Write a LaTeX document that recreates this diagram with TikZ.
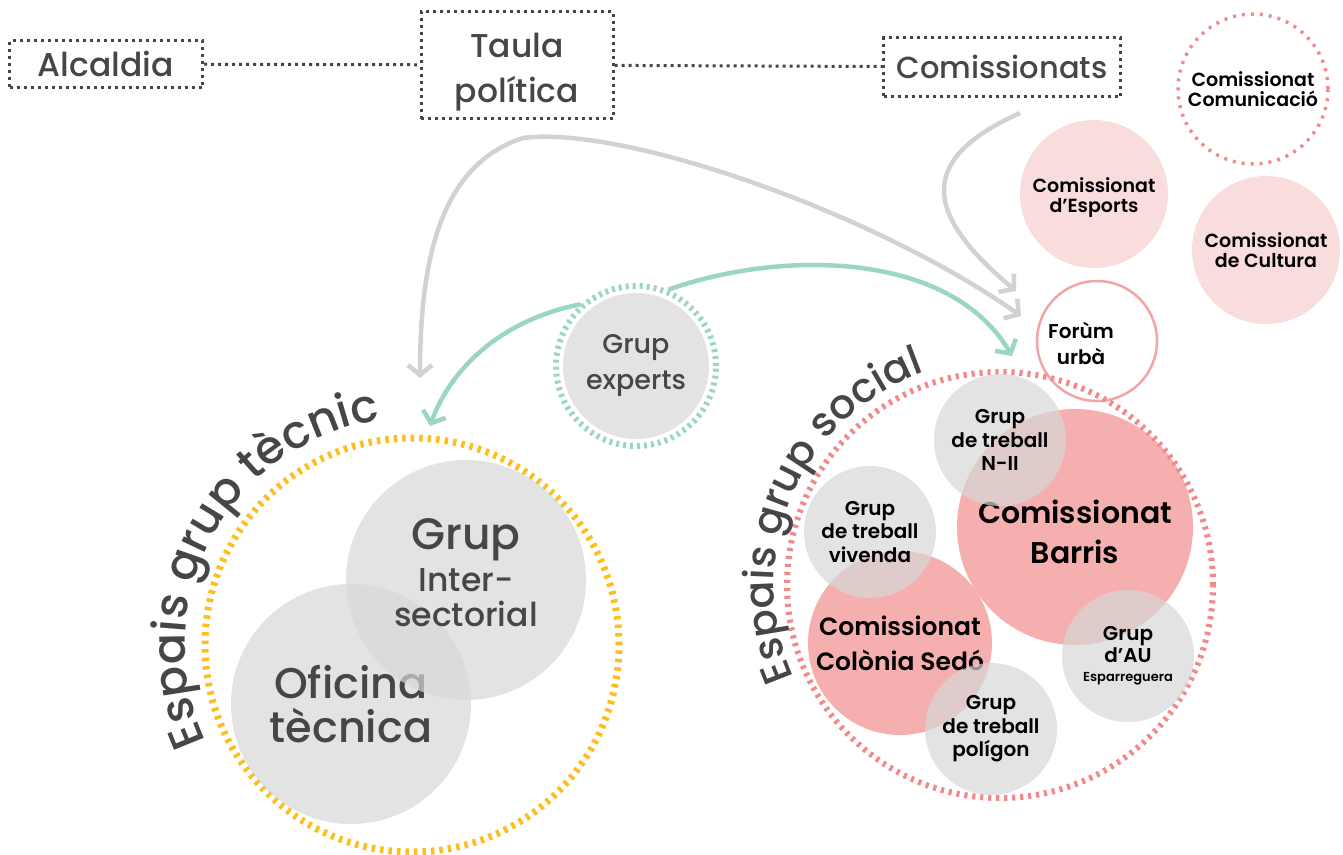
\documentclass[tikz,border=0pt]{standalone}
\usepackage{fontspec}
\setmainfont{Poppins Medium}[BoldFont={Poppins SemiBold}]
\usetikzlibrary{arrows.meta, decorations.text}
\definecolor{ink}{RGB}{70,70,70}
\definecolor{amber}{RGB}{253,190,30}
\definecolor{rosedot}{RGB}{242,138,138}
\definecolor{roseline}{RGB}{243,165,165}
\definecolor{rosefill}{RGB}{242,141,141}
\definecolor{blush}{RGB}{249,220,220}
\definecolor{mint}{RGB}{154,214,194}
\definecolor{haze}{RGB}{209,210,212}
\definecolor{stone}{RGB}{215,215,215}
\newcommand{\fsz}[2]{\fontsize{#1}{#2}\selectfont}

\begin{document}
\begin{tikzpicture}[x=1pt, y=-1pt,
            frame/.style={draw=ink, line width=3pt, dash pattern=on 3pt off 4pt, text=ink, align=center, inner sep=0pt},
            dots/.style={draw=ink, line width=3pt, dash pattern=on 3pt off 4pt},
            disc/.style={circle, inner sep=0pt, align=center, fill=stone, fill opacity=0.7, text opacity=1},
            rosedisc/.style={disc, fill=rosefill, text=black},
            blushdisc/.style={circle, inner sep=0pt, align=center, fill=blush, text=black, font=\bfseries\fsz{19}{20.5}},
            greyarrow/.style={draw=haze, line width=4.5pt, -{Straight Barb[length=10pt,width=24pt]}},
            mintarrow/.style={draw=mint, line width=4.5pt, -{Straight Barb[length=10pt,width=24pt]}},
            title/.style={decorate, decoration={text along path, text color=ink, text align=left}}
        ]
            \useasboundingbox (0,0) rectangle (1343,854);

            \node[frame, minimum width=193pt, minimum height=47pt, font=\fsz{33}{40}] (alcaldia) at (106,64) {Alcaldia};
            \node[frame, minimum width=192pt, minimum height=107pt, font=\fsz{33}{45}] (taula) at (517,65) {\rule{0pt}{38pt}Taula\\política};
            \node[frame, minimum width=237pt, minimum height=59pt, font=\fsz{30.5}{40}] (comissionats) at (1002,67) {Comissionats};
            \draw[dots] (alcaldia) -- (taula);
            \draw[dots] (taula) -- (comissionats);

            \node[circle, draw=rosedot, line width=3.5pt, dash pattern=on 3pt off 6pt, minimum size=150pt, inner sep=0pt, align=center, font=\bfseries\fsz{19}{20}] (comunicacio) at (1253,89) {Comissionat\\Comunicació};
            \node[blushdisc, minimum size=148pt] (esports) at (1094,194) {\rule{0pt}{22pt}Comissionat\\d’Esports};
            \node[blushdisc, minimum size=148pt] (cultura) at (1266,250) {Comissionat\\de Cultura};
            \node[circle, draw=roseline, line width=2.5pt, minimum size=120pt] (forum) at (1097,341) {};
            \node[align=center, font=\bfseries\fsz{20}{26}] (forumtext) at ([xshift=-16pt,yshift=-2pt]forum.center) {Forùm\\urbà};

            \node[circle, draw=mint, line width=6pt, dash pattern=on 3pt off 4pt, minimum size=160pt] (expertsring) at (636,366) {};
            \node[disc, minimum size=146pt, text=ink, font=\fsz{27}{36}] (experts) at (636,366) {Grup\\experts};

            \node[circle, draw=amber, line width=7pt, dash pattern=on 3.5pt off 5pt, minimum size=414pt] (tecnic) at (412,645) {};
            \node[disc, minimum size=240pt, text=ink, font=\fsz{43}{44}] (oficina) at (351,704) {Oficina\\tècnica};
            \node[disc, minimum size=240pt, text=ink, font=\fsz{33}{35}] (inter) at (466,580) {{\fsz{44}{44}Grup}\\[7pt]Inter-\\sectorial\rule[-14pt]{0pt}{0pt}};

            \node[circle, draw=rosedot, line width=6pt, dash pattern=on 3.2pt off 4.8pt, minimum size=426pt] (social) at (1000,585) {};
            \node[rosedisc, minimum size=236pt, font=\bfseries\fsz{30}{40}] (barris) at (1075,527) {\rule{0pt}{33pt}Comissionat\\Barris};
            \node[rosedisc, minimum size=184pt, font=\bfseries\fsz{25}{35}] (colonia) at (900,643) {Comissionat\\Colònia Sedó};
            \foreach \id/\x/\y/\txt in {nii/1000/440/N-II, vivenda/870/532/vivenda, poligon/991/729/polígon}
                \node[disc, minimum size=132pt, text=black, font=\bfseries\fsz{20}{23.5}] (\id) at (\x,\y) {Grup\\de treball\\\txt};
            \node[disc, minimum size=132pt, text=black, font=\bfseries\fsz{20}{22}] (au) at (1128,656) {Grup\\d’AU\\[-3pt]{\fsz{13}{14}Esparreguera}};

            \path[title, decoration={text={|\fsz{46}{46}|Espais grup tècnic}}] (tecnic.center) ++(155:227) arc[start angle=155, end angle=285, radius=227];
            \path[title, decoration={text={|\fsz{41}{41}|Espais grup social}}] (social.center) ++(156:226) arc[start angle=156, end angle=285, radius=226];

            \coordinate (fork) at (523,138);
            \coordinate (comstart) at (1020,113);
            \coordinate (tiptec) at (420,378);
            \coordinate (tipforum) at (1021,316);
            \coordinate (tipcom) at (1016,291);
            \coordinate (tipsocial) at (1012,356);
            \coordinate (tipleft) at (430,426);

            \draw[greyarrow] (fork) .. controls (440,165) and (420,260) .. (tiptec);
            \draw[greyarrow] (fork) .. controls (620,125) and (870,210) .. (tipforum);
            \draw[greyarrow] (comstart) .. controls (915,160) and (925,215) .. (tipcom);
            \draw[mintarrow] (expertsring.67) .. controls (780,250) and (950,250) .. (tipsocial);
            \draw[mintarrow] (expertsring.132) .. controls (500,320) and (450,370) .. (tipleft);
        \end{tikzpicture}
\end{document}
